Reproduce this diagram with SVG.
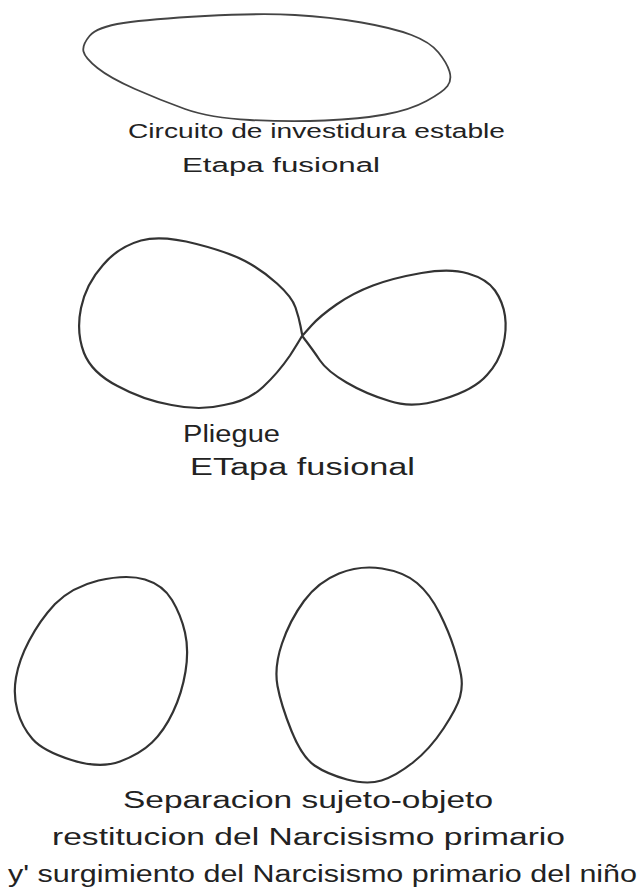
<svg xmlns="http://www.w3.org/2000/svg" width="641" height="894" viewBox="0 0 641 894">
<style>
.shape{fill:none;stroke:#333;stroke-width:2.2;stroke-linejoin:round;stroke-linecap:round}
.thin{stroke:#444;stroke-width:1.8}
.lbl{font-family:"Liberation Sans","DejaVu Sans",sans-serif;fill:#222;font-size:20px}
.big{font-size:23px}
</style>
<rect width="641" height="894" fill="#fff"/>
<g id="stage1">
<path class="shape thin" d="M 89.5,36 Q 97,27 123.5,23 Q 150,19 205,16 Q 260,13 295,15 Q 330,17 361.5,22.5 Q 393,28 411.5,35 Q 430,42 438.5,52.5 Q 447,63 449.5,71.5 Q 452,80 447.5,86 Q 443,92 426.5,101 Q 410,110 385,114.5 Q 360,119 325,120.5 Q 290,122 250,120 Q 210,118 185,109 Q 160,100 135,89 Q 110,78 97.5,68 Q 85,58 83.5,51.5 Q 82,45 89.5,36 Z"/>
<text class="lbl" x="128" y="138" textLength="377" lengthAdjust="spacingAndGlyphs">Circuito de investidura estable</text>
<text class="lbl" x="182" y="172" textLength="198" lengthAdjust="spacingAndGlyphs">Etapa fusional</text>
</g>
<g id="stage2">
<path class="shape" d="M 302,334 L 300.5,326 Q 299,318 295.5,307.5 Q 292,297 277,283.5 Q 262,270 245,261 Q 228,252 196.5,244 Q 162,235 141,240.5 Q 118,247 103,265 Q 86,284 81,308 Q 76,332 84,353 Q 92,373 117.5,386 Q 143,400 171.5,405 Q 200,411 224,405 Q 248,401 263,387 Q 278,373 290,355.5 Q 298,343 302,336"/>
<path class="shape" d="M 303,335 L 311.5,325.5 Q 320,316 336.5,304.5 Q 353,293 373,285.5 Q 393,278 421.5,273 Q 450,268 468,273.5 Q 487,279 495,290.5 Q 503,302 505,316 Q 507,330 503,346 Q 499,362 487,375 Q 474,390 443.5,399 Q 413,409 389.5,401 Q 366,394 346.5,382.5 Q 327,371 320,360.5 Q 313,350 303,337"/>
<text class="lbl big" x="183" y="442" textLength="97" lengthAdjust="spacingAndGlyphs">Pliegue</text>
<text class="lbl big" x="190" y="475" textLength="225" lengthAdjust="spacingAndGlyphs">ETapa fusional</text>
</g>
<g id="stage3">
<path class="shape" d="M 145,579.5 Q 163,585 172,600 Q 181,615 185,632.5 Q 189,650 185.5,671.5 Q 182,693 173,712 Q 164,731 152,742.5 Q 140,754 120,761.5 Q 100,769 71.5,760 Q 43,751 32.5,739 Q 22,727 17.5,711 Q 13,695 16,677.5 Q 19,660 29,641 Q 40,620 55,604 Q 72,587 98.5,580.5 Q 127,574 145,579.5 Z"/>
<path class="shape" d="M 382,568.5 Q 404,572 417,583 Q 430,594 439.5,613 Q 449,632 454,648 Q 459,664 461,675 Q 463,686 460,697 Q 457,708 443.5,728.5 Q 430,749 413,762.5 Q 396,776 381.5,780.5 Q 367,785 347,779.5 Q 327,774 314.5,765.5 Q 302,757 291.5,731 Q 281,705 277.5,686 Q 274,667 282,643.5 Q 290,620 304,601 Q 318,582 339,573.5 Q 360,565 382,568.5 Z"/>
<text class="lbl big" x="123" y="808" textLength="370" lengthAdjust="spacingAndGlyphs">Separacion sujeto-objeto</text>
<text class="lbl big" x="52" y="845" textLength="513" lengthAdjust="spacingAndGlyphs">restitucion del Narcisismo primario</text>
<text class="lbl big" x="8" y="882" textLength="629" lengthAdjust="spacingAndGlyphs">y' surgimiento del Narcisismo primario del niño</text>
</g>
</svg>
